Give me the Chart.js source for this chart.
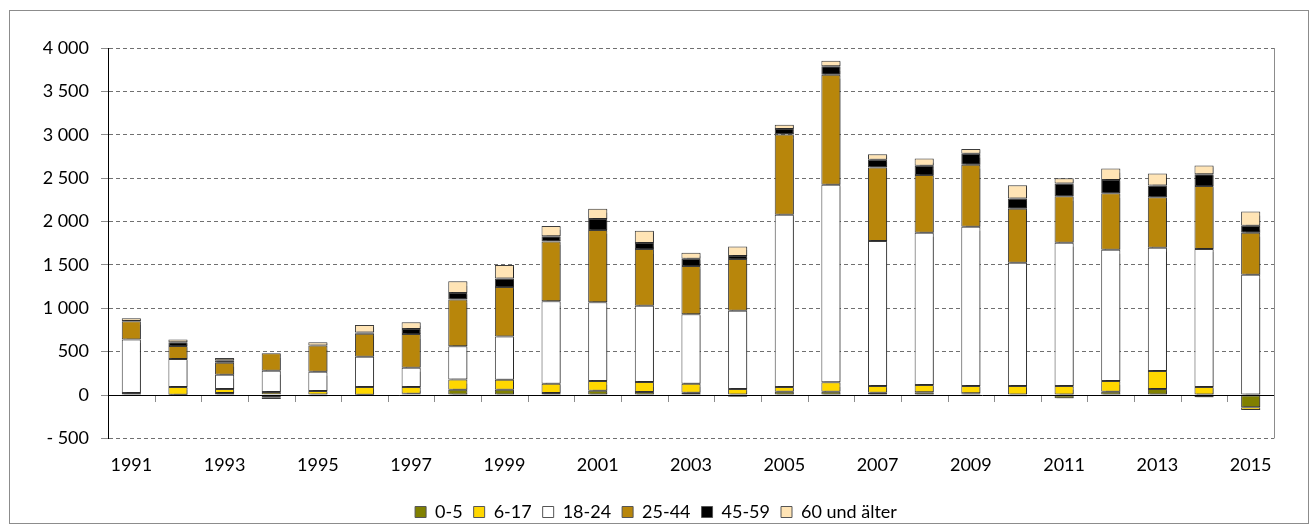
<!DOCTYPE html>
<html>
<head>
    <title>Altersgruppen</title>
    <script src="https://cdn.jsdelivr.net/npm/chart.js"></script>
</head>
<style>
    body {
        margin: 0;
        background: #fff;
    }
    .frame {
        position: absolute;
        left: 9px;
        top: 10px;
        width: 1298px;
        height: 512px;
        border: 1px solid #8c8c8c;
    }
    .chart-container {
        position: absolute;
        left: 0;
        top: 0;
        width: 1312px;
        height: 532px;
    }
</style>
<body>
    <div class="frame"></div>
    <div class="chart-container">
        <canvas id="ageChart"></canvas>
    </div>

<script>
    var years = ['1991','1992','1993','1994','1995','1996','1997','1998','1999','2000','2001','2002','2003',
                 '2004','2005','2006','2007','2008','2009','2010','2011','2012','2013','2014','2015'];

    // values per age group
    var age_0_5   = [5, 2, 23, 10, 5, 3, 16, 62, 62, 23, 50, 35, 27, -19, 38, 38, 27, 31, 19, -15, -38, 38, 69, -27, -142];
    var age_6_17  = [18, 91, 47, 25, 42, 90, 77, 116, 115, 108, 112, 115, 104, 69, 54, 108, 77, 85, 85, 104, 104, 124, 208, 92, -31];
    var age_18_24 = [617, 322, 163, 244, 221, 349, 221, 385, 497, 951, 908, 878, 801, 901, 1987, 2277, 1671, 1755, 1836, 1421, 1652, 1513, 1421, 1590, 1386];
    var age_25_44 = [210, 151, 139, 202, 302, 264, 388, 539, 570, 689, 832, 654, 554, 597, 924, 1270, 847, 666, 713, 623, 535, 650, 581, 728, 485];
    var age_45_59 = [2, 43, 28, -27, -15, 16, 58, 74, 100, 58, 127, 70, 85, 35, 62, 96, 89, 107, 127, 116, 146, 154, 135, 135, 81];
    var age_60    = [34, 31, 27, -19, 39, 85, 78, 135, 156, 119, 119, 142, 69, 111, 50, 65, 65, 81, 55, 154, 62, 131, 139, 100, 162];

    var groupNames  = ['0-5', '6-17', '18-24', '25-44', '45-59', '60 und älter'];
    var groupColors = ['#808000', '#FFD700', '#FFFFFF', '#B8860B', '#000000', '#FFE4B5'];
    var yTicks = { min: -500, max: 4000, step: 500 };

    var FONT = 'Lato, "Open Sans", sans-serif';

    function fmt(v) {
        var s = String(Math.abs(v)).replace(/\B(?=(\d{3})+(?!\d))/g, ' ');
        return v < 0 ? '- ' + s : s;
    }

    var series = [age_0_5, age_6_17, age_18_24, age_25_44, age_45_59, age_60];
    var datasets = series.map(function (d, i) {
        return {
            label: groupNames[i],
            data: d,
            backgroundColor: groupColors[i],
            borderColor: '#3c3c3c',
            borderWidth: 1,
            borderSkipped: false,
            barPercentage: 0.41,
            categoryPercentage: 1.0
        };
    });

    // light shadow behind the bars, like the office original
    var shadowPlugin = {
        id: 'barShadow',
        beforeDatasetsDraw: function (chart) {
            var c = chart.ctx;
            c.save();
            c.shadowColor = 'rgba(0,0,0,0.35)';
            c.shadowOffsetX = 2;
            c.shadowOffsetY = 1;
            c.shadowBlur = 1;
        },
        afterDatasetsDraw: function (chart) {
            chart.ctx.restore();
        }
    };

    // zero line with category tick marks and the right edge of the plot
    var axisPlugin = {
        id: 'zeroAxis',
        afterDatasetsDraw: function (chart) {
            var c = chart.ctx;
            var area = chart.chartArea;
            var y0 = chart.scales.y.getPixelForValue(0);
            c.save();
            c.strokeStyle = '#8c8c8c';
            c.lineWidth = 1;
            c.beginPath();
            c.moveTo(Math.round(area.right) + 0.5, area.top);
            c.lineTo(Math.round(area.right) + 0.5, area.bottom);
            c.stroke();
            var step = (area.right - area.left) / years.length;
            for (var i = 1; i < years.length; i++) {
                var px = Math.round(area.left + i * step) + 0.5;
                c.beginPath();
                c.moveTo(px, y0);
                c.lineTo(px, y0 + 7);
                c.stroke();
            }
            c.strokeStyle = '#000';
            c.beginPath();
            c.moveTo(area.left, Math.round(y0) + 0.5);
            c.lineTo(area.right, Math.round(y0) + 0.5);
            c.stroke();
            c.restore();
        }
    };

    var ctx = document.getElementById('ageChart').getContext('2d');
    var ageChart = new Chart(ctx, {
        type: 'bar',
        data: { labels: years, datasets: datasets },
        plugins: [shadowPlugin, axisPlugin],
        options: {
            responsive: true,
            maintainAspectRatio: false,
            animation: false,
            layout: {
                padding: { left: 0, right: 0, top: 48, bottom: 1 }
            },
            plugins: {
                legend: {
                    position: 'bottom',
                    labels: {
                        boxWidth: 11,
                        boxHeight: 11,
                        padding: 11,
                        color: '#000',
                        font: { family: FONT, size: 18 },
                        generateLabels: function (chart) {
                            return groupNames.map(function (n, i) {
                                return {
                                    text: n,
                                    fillStyle: groupColors[i],
                                    strokeStyle: '#555',
                                    lineWidth: 1,
                                    datasetIndex: i
                                };
                            });
                        }
                    }
                },
                tooltip: { enabled: false }
            },
            scales: {
                x: {
                    stacked: true,
                    grid: { display: false },
                    border: { display: false },
                    afterFit: function (scale) { scale.height += 8; },
                    ticks: {
                        autoSkip: false,
                        maxRotation: 0,
                        padding: 8,
                        color: '#000',
                        font: { family: FONT, size: 18 },
                        callback: function (val, i) {
                            return i % 2 === 0 ? years[i] : '';
                        }
                    }
                },
                y: {
                    stacked: true,
                    min: yTicks.min,
                    max: yTicks.max,
                    afterFit: function (scale) { scale.width = 108; },
                    grid: {
                        color: '#707070',
                        tickColor: '#8c8c8c',
                        tickLength: 7,
                        tickBorderDash: []
                    },
                    border: { color: '#000', dash: [4, 3] },
                    ticks: {
                        stepSize: yTicks.step,
                        padding: 12,
                        color: '#000',
                        font: { family: FONT, size: 18 },
                        callback: function (v) { return fmt(v); }
                    }
                },
                // empty right margin so the legend centres on the whole frame
                yRight: {
                    position: 'right',
                    min: yTicks.min,
                    max: yTicks.max,
                    afterFit: function (scale) { scale.width = 38; },
                    grid: { display: false },
                    border: { display: false },
                    ticks: { display: false }
                }
            }
        }
    });
</script>
</body>
</html>
